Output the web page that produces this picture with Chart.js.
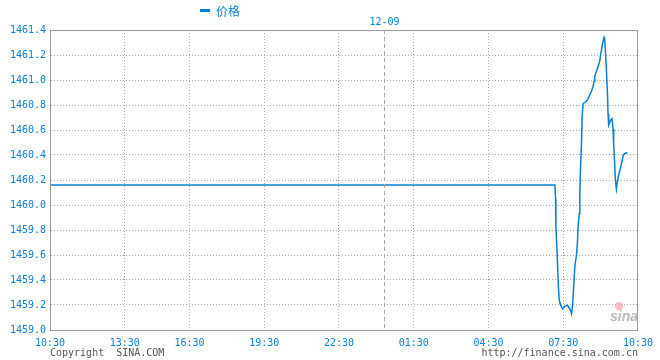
<!DOCTYPE html>
<html>
<head>
<meta charset="utf-8">
<script src="https://cdn.jsdelivr.net/npm/chart.js@4"></script>
<style>
  html, body { margin: 0; padding: 0; background: #fff; }
  #wrap { width: 660px; height: 360px; }
</style>
</head>
<body>
<div id="wrap"><canvas id="chartPrix"></canvas></div>
<script>
// minute index on the sina time axis (10:30 = 0)
const tickPos = [0, 180, 336, 516, 696, 876, 1056, 1236, 1416];
const tickLabels = ['10:30', '13:30', '16:30', '19:30', '22:30', '01:30', '04:30', '07:30', '10:30'];
const yTicks = [1459.0, 1459.2, 1459.4, 1459.6, 1459.8, 1460.0, 1460.2, 1460.4, 1460.6, 1460.8, 1461.0, 1461.2, 1461.4];
const dayBreak = 804;
const dayLabel = '12-09';
const seriesName = '价格';

const minutes = [0, 1216, 1217.6, 1218.4, 1221.6, 1224, 1226.4, 1229.6, 1234.4, 1240, 1246.4, 1249.6, 1253.6, 1256,
  1258.4, 1261.6, 1264, 1268, 1270.4, 1272, 1274.4, 1276, 1277.6, 1280, 1281.6, 1284, 1288, 1294.4, 1298.4,
  1304, 1308, 1310.4, 1312, 1316, 1320, 1324, 1326.4, 1329.6, 1332, 1334.4, 1336, 1337.6, 1340, 1342.4, 1344,
  1345.6, 1348, 1350.4, 1353.6, 1356, 1357.6, 1360, 1361.6, 1364, 1366.4, 1369.6, 1373.6, 1377.6, 1380.8, 1384, 1390.4];
const prices = [1460.16, 1460.16, 1460.05, 1459.83, 1459.60, 1459.37, 1459.24, 1459.20, 1459.17, 1459.19, 1459.20, 1459.18, 1459.16, 1459.13,
  1459.19, 1459.37, 1459.51, 1459.60, 1459.71, 1459.83, 1459.93, 1460.09, 1460.29, 1460.49, 1460.71, 1460.81, 1460.82, 1460.84, 1460.87,
  1460.91, 1460.95, 1460.99, 1461.03, 1461.07, 1461.11, 1461.15, 1461.21, 1461.27, 1461.31, 1461.34, 1461.32, 1461.25, 1461.08, 1460.91, 1460.73,
  1460.64, 1460.66, 1460.68, 1460.69, 1460.61, 1460.48, 1460.33, 1460.20, 1460.13, 1460.19, 1460.24, 1460.29, 1460.35, 1460.40, 1460.41, 1460.42];

const bleu = '#0a7fd0';
const mono = '"DejaVu Sans Mono", "Liberation Mono", monospace';

// cadre, séparateur de jour, légende et textes du bas
const decor = {
    id: 'decor',
    afterDraw(chart) {
        const { ctx, chartArea: a, scales } = chart;
        ctx.save();
        // séparateur de jour
        const xb = Math.round(scales.x.getPixelForValue(dayBreak)) + 0.5;
        ctx.strokeStyle = '#aaa';
        ctx.lineWidth = 1;
        ctx.setLineDash([4, 3]);
        ctx.beginPath();
        ctx.moveTo(xb, a.top);
        ctx.lineTo(xb, a.bottom);
        ctx.stroke();
        ctx.setLineDash([]);
        // cadre
        ctx.strokeStyle = '#999';
        ctx.strokeRect(a.left + 0.5, a.top + 0.5, a.right - a.left - 1, a.bottom - a.top);
        // étiquette du jour
        ctx.fillStyle = bleu;
        ctx.font = '10px ' + mono;
        ctx.textAlign = 'center';
        ctx.textBaseline = 'middle';
        ctx.fillText(dayLabel, xb, 22);
        // légende
        ctx.fillRect(200, 9, 10, 3);
        ctx.font = '12px "Noto Sans CJK SC", sans-serif';
        ctx.textAlign = 'left';
        ctx.fillText(seriesName, 216, 11);
        // textes du bas
        ctx.fillStyle = '#555';
        ctx.font = '10px ' + mono;
        ctx.fillText('Copyright  SINA.COM', a.left, 353);
        ctx.textAlign = 'right';
        ctx.fillText('http://finance.sina.com.cn', a.right, 353);
        // filigrane sina
        ctx.fillStyle = 'rgba(240,150,160,0.6)';
        ctx.beginPath();
        ctx.arc(619, 306, 4, 0, Math.PI * 2);
        ctx.fill();
        ctx.fillStyle = '#bbb';
        ctx.font = 'italic bold 14px "Liberation Sans", sans-serif';
        ctx.textAlign = 'right';
        ctx.fillText('sina', 638, 317);
        ctx.restore();
    }
};

document.addEventListener('DOMContentLoaded', function() {
    const ctx = document.getElementById('chartPrix');
    new Chart(ctx, {
        type: 'line',
        data: {
            datasets: [{
                label: seriesName,
                data: minutes.map((m, i) => ({ x: m, y: prices[i] })),
                borderColor: bleu,
                borderWidth: 1.5,
                pointRadius: 0,
                tension: 0,
                fill: false
            }]
        },
        options: {
            responsive: true,
            maintainAspectRatio: false,
            animation: false,
            layout: { padding: { top: 30, right: 20, left: 0, bottom: 0 } },
            plugins: {
                legend: { display: false },
                tooltip: { enabled: false }
            },
            scales: {
                x: {
                    type: 'linear',
                    min: tickPos[0],
                    max: tickPos[tickPos.length - 1],
                    afterBuildTicks: s => { s.ticks = tickPos.map(v => ({ value: v })); },
                    afterFit: s => { s.height = 30; },
                    grid: { color: '#aaa', lineWidth: 1, tickLength: 0, drawTicks: false },
                    border: { display: true, color: '#999', dash: [1, 2] },
                    ticks: {
                        color: bleu,
                        font: { family: mono, size: 10 },
                        padding: 7,
                        maxRotation: 0,
                        autoSkip: false,
                        callback: (v, i) => tickLabels[i]
                    }
                },
                y: {
                    min: yTicks[0],
                    max: yTicks[yTicks.length - 1],
                    afterBuildTicks: s => { s.ticks = yTicks.map(v => ({ value: v })); },
                    afterFit: s => { s.width = 50; },
                    grid: { color: '#aaa', lineWidth: 1, drawTicks: false },
                    border: { display: true, color: '#999', dash: [1, 2] },
                    ticks: {
                        color: bleu,
                        font: { family: mono, size: 10 },
                        padding: 4,
                        autoSkip: false,
                        callback: v => v.toFixed(1)
                    }
                }
            }
        },
        plugins: [decor]
    });
});
</script>
</body>
</html>
